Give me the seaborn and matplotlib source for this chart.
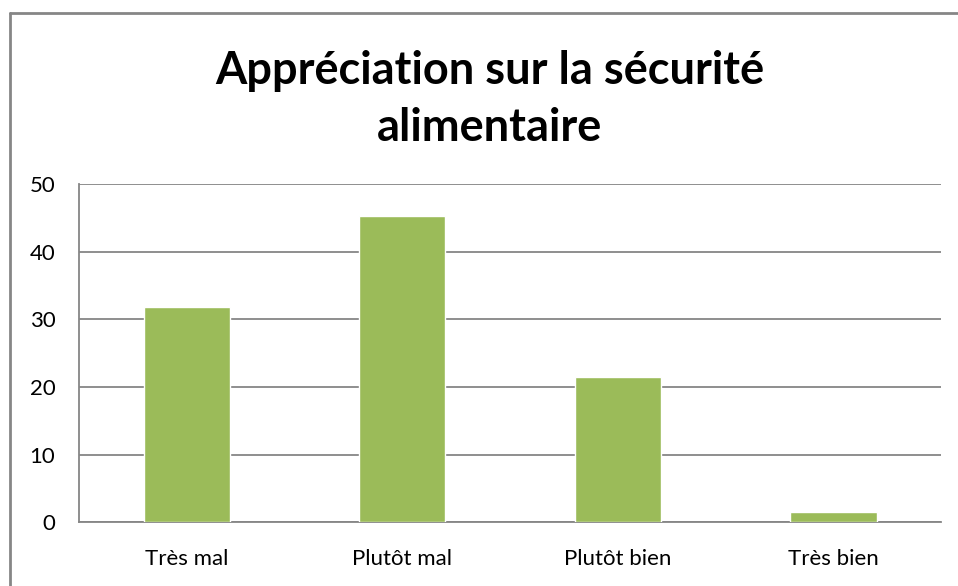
import matplotlib
matplotlib.use("Agg")
import matplotlib.pyplot as plt
import seaborn as sns
import pandas as pd
from matplotlib.lines import Line2D

# Données (en %)
categories = ["Très mal", "Plutôt mal", "Plutôt bien", "Très bien"]
valeurs = [31.8, 45.3, 21.4, 1.5]
yticks = [0, 10, 20, 30, 40, 50]
titre = "Appréciation sur la sécurité\nalimentaire"

sns.set_style("white")
plt.rcParams['font.family'] = ['Lato', 'DejaVu Sans']

df = pd.DataFrame({"categorie": categories, "valeur": valeurs})

fig = plt.figure(figsize=(9.58, 5.86), dpi=100)
ax = fig.add_axes([0.0825, 0.109, 0.9, 0.577])

sns.barplot(data=df, x="categorie", y="valeur", color="#9BBB59",
            width=0.4, saturation=1, ax=ax, zorder=3)

ax.set_ylim(0, 50)
ax.set_yticks(yticks)
ax.set_xlim(-0.5, len(categories) - 0.5)
ax.yaxis.grid(True, color="#868686", linewidth=1.3, zorder=0)
ax.set_axisbelow(True)
ax.set_xlabel("")
ax.set_ylabel("")
for s in ["top", "right"]:
    ax.spines[s].set_visible(False)
for s in ["left", "bottom"]:
    ax.spines[s].set_color("#868686")
    ax.spines[s].set_linewidth(1.3)
ax.tick_params(axis="both", length=0, labelsize=16, colors="black")
ax.tick_params(axis="y", pad=17)
ax.tick_params(axis="x", pad=19)

fig.text(0.511, 0.830, titre, ha="center", va="center", fontsize=32.5,
         fontweight="bold", linespacing=1.45, color="black")

# cadre du graphique
fig.add_artist(Line2D([0.0105, 1.0], [0.978, 0.978], transform=fig.transFigure,
                      color="#868686", linewidth=2))
fig.add_artist(Line2D([0.0105, 0.0105], [0.0, 0.978], transform=fig.transFigure,
                      color="#868686", linewidth=2))

fig.savefig("out.png", dpi=100)
